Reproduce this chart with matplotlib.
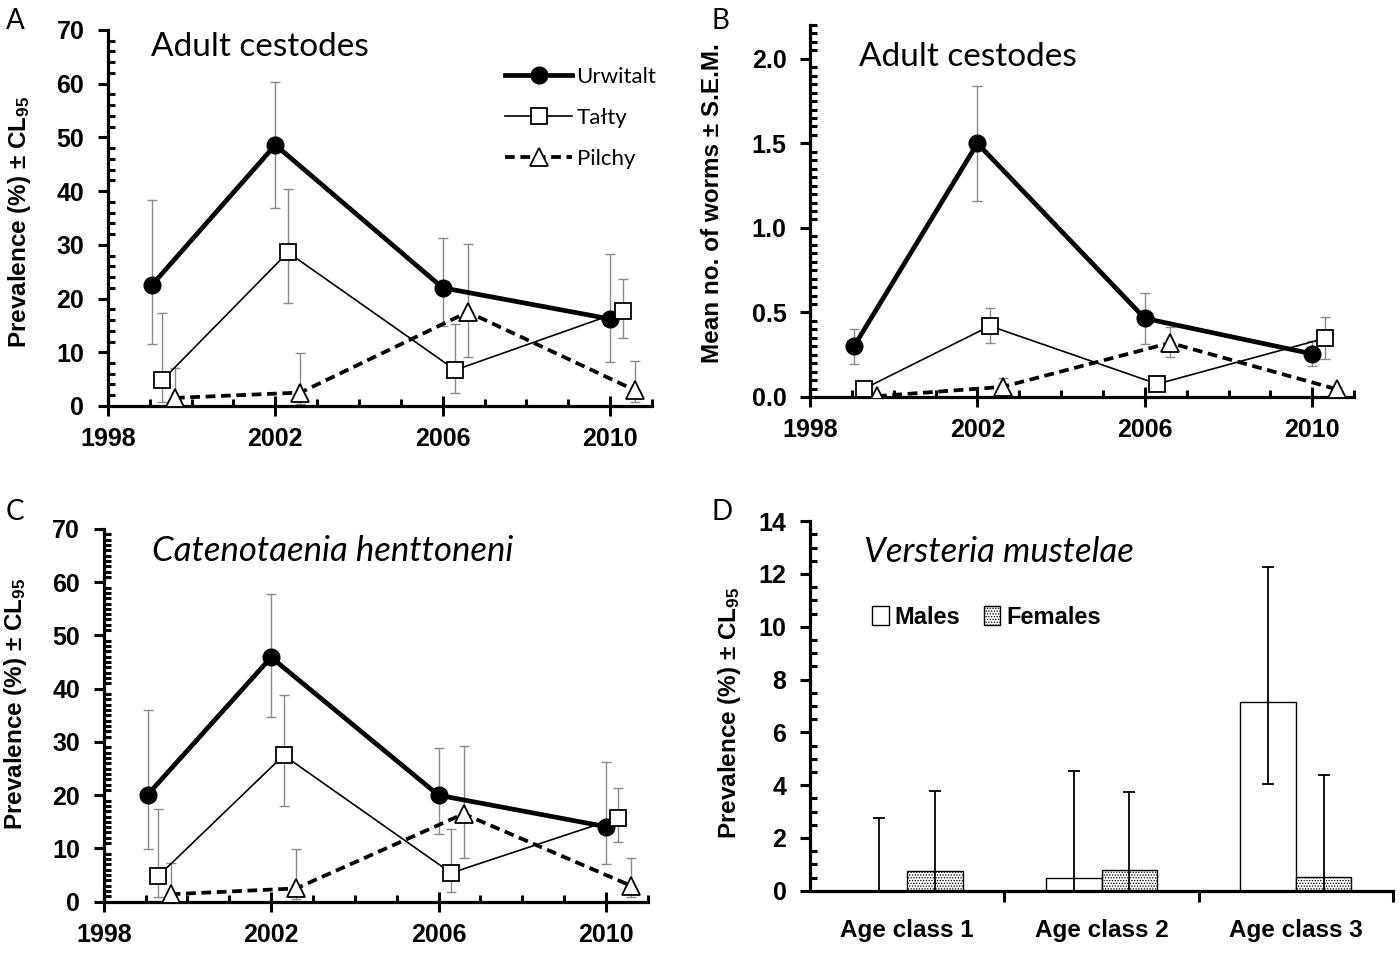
import matplotlib
matplotlib.use('Agg')
import matplotlib.pyplot as plt
from matplotlib.ticker import MultipleLocator
import numpy as np

plt.rcParams['font.family'] = ['Liberation Sans', 'DejaVu Sans']
plt.rcParams['font.weight'] = 'bold'
plt.rcParams['mathtext.fontset'] = 'custom'
plt.rcParams['mathtext.rm'] = 'Liberation Sans'
plt.rcParams['mathtext.default'] = 'regular'
plt.rcParams['hatch.linewidth'] = 0.6

REG_FONT = ['Lato', 'DejaVu Sans']

# 采样年份（各地点略微错开，避免重叠）
SITES = ['Urwitalt', 'Tałty', 'Pilchy']
YEARS_U = [1999.05, 2002.0, 2006.0, 2010.0]
YEARS_T = [1999.3, 2002.3, 2006.3, 2010.3]
YEARS_P = [1999.6, 2002.6, 2006.6, 2010.6]

# A: adult cestodes prevalence (%) with CL95
A_U = [22.5, 48.6, 22.0, 16.2]
A_U_LO = [11.6, 36.8, 14.8, 8.1]
A_U_HI = [38.4, 60.4, 31.3, 28.3]
A_T = [4.8, 28.6, 6.7, 17.7]
A_T_LO = [0.8, 19.2, 2.5, 12.7]
A_T_HI = [17.4, 40.4, 15.3, 23.6]
A_P = [1.5, 2.5, 17.5, 2.9]
A_P_LO = [0.05, 0.4, 9.2, 0.8]
A_P_HI = [7.1, 9.8, 30.2, 8.3]

# B: mean no. of worms +- SEM
B_U = [0.30, 1.50, 0.465, 0.255]
B_U_LO = [0.195, 1.16, 0.315, 0.182]
B_U_HI = [0.40, 1.84, 0.614, 0.33]
B_T = [0.05, 0.42, 0.077, 0.347]
B_T_LO = [0.03, 0.317, 0.06, 0.222]
B_T_HI = [0.07, 0.525, 0.095, 0.472]
B_P = [0.005, 0.06, 0.32, 0.045]
B_P_LO = [0.0, 0.02, 0.235, 0.03]
B_P_HI = [0.01, 0.11, 0.415, 0.06]

# C: Catenotaenia henttoneni prevalence (%)
C_U = [20.1, 45.9, 20.0, 14.1]
C_U_LO = [9.9, 34.6, 12.8, 7.0]
C_U_HI = [36.0, 57.7, 28.8, 26.2]
C_T = [4.8, 27.5, 5.4, 15.8]
C_T_LO = [0.9, 17.9, 1.9, 11.2]
C_T_HI = [17.4, 38.9, 13.7, 21.4]
C_P = [1.4, 2.5, 16.5, 3.0]
C_P_LO = [0.05, 0.5, 8.3, 0.9]
C_P_HI = [7.2, 9.9, 29.2, 8.3]

# D: Versteria mustelae by age class and sex
AGE_CLASSES = ['Age class 1', 'Age class 2', 'Age class 3']
MALES = [0.0, 0.5, 7.15]
MALES_LO = [0.0, 0.0, 4.04]
MALES_HI = [2.75, 4.52, 12.26]
FEMALES = [0.75, 0.77, 0.53]
FEMALES_LO = [0.0, 0.0, 0.0]
FEMALES_HI = [3.76, 3.74, 4.37]

SPINE_W = 2.3
ERR_C = '#8a8a8a'
TICK_FS = 18
LABEL_FS = 17.5


def style_axes(ax):
    for s in ['top', 'right']:
        ax.spines[s].set_visible(False)
    for s in ['left', 'bottom']:
        ax.spines[s].set_linewidth(SPINE_W)
    ax.tick_params(axis='both', labelsize=TICK_FS, width=2.2)
    ax.tick_params(axis='y', which='major', direction='out', length=7, pad=10)
    ax.tick_params(axis='y', which='minor', direction='in', length=5, width=2.2)
    for lab in ax.get_xticklabels() + ax.get_yticklabels():
        lab.set_fontweight('bold')


def line_panel(ax, series, ylim, major, minor, fmt, ylabel, title, title_pos, italic=False):
    years = [YEARS_U, YEARS_T, YEARS_P]
    for (vals, lo, hi), xs in zip(series, years):
        v = np.array(vals)
        ax.errorbar(xs, v, yerr=[v - np.array(lo), np.array(hi) - v], fmt='none',
                    ecolor=ERR_C, elinewidth=1.0, capsize=3.6, capthick=1.0, zorder=1)
    (u, _, _), (t, _, _), (p, _, _) = series
    ax.plot(YEARS_U, u, '-o', color='black', lw=3.4, ms=12, mfc='black', mec='black',
            label=SITES[0], zorder=3)
    ax.plot(YEARS_T, t, '-s', color='black', lw=1.2, ms=11.5, mfc='white', mec='black',
            mew=1.3, label=SITES[1], zorder=4)
    ax.plot(YEARS_P, p, '--^', color='black', lw=2.7, ms=12.5, mfc='white', mec='black',
            mew=1.3, dashes=(2.6, 1.5), label=SITES[2], zorder=5)
    ax.set_xlim(1998, 2011)
    ax.set_ylim(*ylim)
    ax.set_xticks([1998, 2002, 2006, 2010])
    ax.xaxis.set_minor_locator(MultipleLocator(1))
    ax.yaxis.set_major_locator(MultipleLocator(major))
    ax.yaxis.set_minor_locator(MultipleLocator(minor))
    ax.yaxis.set_major_formatter(plt.FormatStrFormatter(fmt))
    style_axes(ax)
    ax.tick_params(axis='x', which='major', direction='inout', length=14, pad=8)
    ax.tick_params(axis='x', which='minor', direction='in', length=5, width=2.2)
    ax.set_ylabel(ylabel, fontsize=LABEL_FS, fontweight='bold')
    ax.text(title_pos[0], title_pos[1], title, transform=ax.transAxes,
            fontsize=25 if italic else 24, family=REG_FONT, fontweight='normal',
            style='italic' if italic else 'normal', va='center')


fig = plt.figure(figsize=(14, 9.55), dpi=100)

ax_a = fig.add_axes([0.0771, 0.5749, 0.3886, 0.3937])
ax_b = fig.add_axes([0.5786, 0.5843, 0.3886, 0.3895])
ax_c = fig.add_axes([0.0741, 0.0558, 0.3886, 0.3903])
ax_d = fig.add_axes([0.5786, 0.0673, 0.4164, 0.3870])

prev_label = 'Prevalence (%) ± CL$_{95}$'

line_panel(ax_a, [(A_U, A_U_LO, A_U_HI), (A_T, A_T_LO, A_T_HI), (A_P, A_P_LO, A_P_HI)],
           (0, 70), 10, 2, '%d', prev_label, 'Adult cestodes', (0.08, 0.955))
line_panel(ax_b, [(B_U, B_U_LO, B_U_HI), (B_T, B_T_LO, B_T_HI), (B_P, B_P_LO, B_P_HI)],
           (0, 2.2), 0.5, 0.05, '%.1f', 'Mean no. of worms ± S.E.M.', 'Adult cestodes',
           (0.09, 0.915))
line_panel(ax_c, [(C_U, C_U_LO, C_U_HI), (C_T, C_T_LO, C_T_HI), (C_P, C_P_LO, C_P_HI)],
           (0, 70), 10, 1, '%d', prev_label, 'Catenotaenia henttoneni', (0.088, 0.94),
           italic=True)

leg = ax_a.legend(loc='upper right', bbox_to_anchor=(1.045, 0.955), frameon=False,
                  handlelength=3.0, handletextpad=0.2, labelspacing=0.95,
                  prop={'size': 16, 'weight': 'normal', 'family': REG_FONT})

# D: bars
xi = np.arange(len(AGE_CLASSES))
off, bw = 0.143, 0.286
m = np.array(MALES)
f = np.array(FEMALES)
ax_d.bar(xi - off, m, bw, color='white', edgecolor='black', lw=1.0, label='Males', zorder=2)
ax_d.bar(xi + off, f, bw, color='white', edgecolor='black', lw=1.0, hatch='......',
         label='Females', zorder=2)
ax_d.errorbar(xi - off, m, yerr=[m - np.array(MALES_LO), np.array(MALES_HI) - m], fmt='none',
              ecolor='black', elinewidth=1.3, capsize=4, capthick=1.3, zorder=3)
ax_d.errorbar(xi + off, f, yerr=[f - np.array(FEMALES_LO), np.array(FEMALES_HI) - f],
              fmt='none', ecolor='black', elinewidth=1.3, capsize=4, capthick=1.3, zorder=3)
ax_d.set_xlim(-0.5, 2.5)
ax_d.set_ylim(0, 14)
ax_d.yaxis.set_major_locator(MultipleLocator(2))
ax_d.yaxis.set_minor_locator(MultipleLocator(0.5))
ax_d.set_xticks([0.5, 1.5, 2.5])
ax_d.set_xticklabels([])
ax_d.set_xticks(xi, minor=True)
ax_d.set_xticklabels(AGE_CLASSES, minor=True)
style_axes(ax_d)
ax_d.tick_params(axis='x', which='major', direction='out', length=8)
ax_d.tick_params(axis='x', which='minor', length=0, pad=20, labelsize=17.5)
for lab in ax_d.get_xticklabels(minor=True):
    lab.set_fontweight('bold')
ax_d.set_ylabel(prev_label, fontsize=LABEL_FS, fontweight='bold')
ax_d.text(0.092, 0.917, 'Versteria mustelae', transform=ax_d.transAxes, fontsize=25,
          family=REG_FONT, fontweight='normal', style='italic', va='center')
ax_d.legend(loc='center left', bbox_to_anchor=(0.07, 0.74), ncol=2, frameon=False,
            handlelength=0.7, handleheight=0.9, handletextpad=0.25, columnspacing=1.0,
            prop={'size': 17, 'weight': 'bold'})

# y 轴标题位置（右边缘对齐参考图）
ax_a.yaxis.set_label_coords(-0.138, 0.49)
ax_c.yaxis.set_label_coords(-0.137, 0.53)
ax_b.yaxis.set_label_coords(-0.158, 0.52)
ax_d.yaxis.set_label_coords(-0.115, 0.48)

fig.text(0.004, 0.992, 'A', fontsize=20, family=REG_FONT, fontweight='normal', va='top')
fig.text(0.508, 0.992, 'B', fontsize=20, family=REG_FONT, fontweight='normal', va='top')
fig.text(0.004, 0.478, 'C', fontsize=20, family=REG_FONT, fontweight='normal', va='top')
fig.text(0.508, 0.478, 'D', fontsize=20, family=REG_FONT, fontweight='normal', va='top')

fig.savefig('out.png', dpi=100)
